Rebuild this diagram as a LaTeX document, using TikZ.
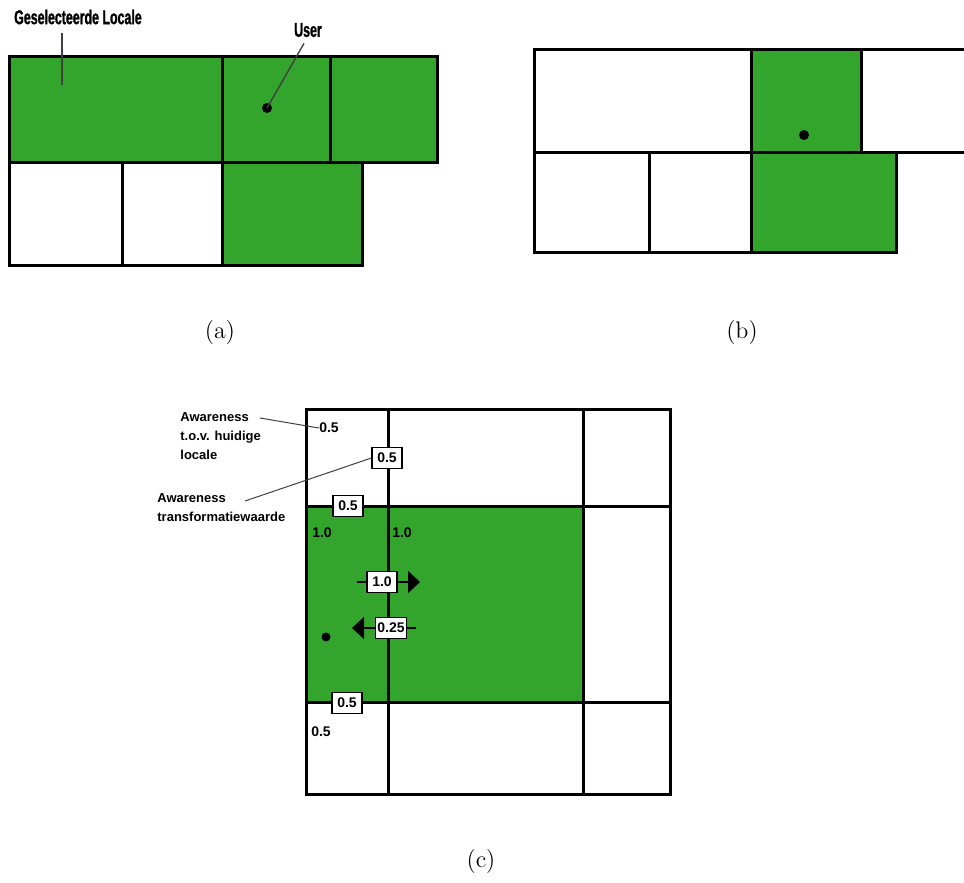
\documentclass[tikz,border=0pt]{standalone}
\usepackage{fontspec}
\usetikzlibrary{arrows.meta}
\newfontfamily\tagfont[FakeStretch=0.62,FakeBold=1.2]{Liberation Sans}
\newfontfamily\numfont{Liberation Sans}
\definecolor{locgreen}{RGB}{51,165,45}
\tikzset{
  cellline/.style={line width=1.5pt,draw=black},
  leader/.style={line width=0.5pt,draw=black!75},
  bigtag/.style={inner sep=0pt,font=\tagfont\bfseries\fontsize{10}{12}\selectfont},
  awtag/.style={inner sep=0pt,align=left,anchor=west,font=\numfont\bfseries\fontsize{6.5}{9.5}\selectfont},
  numtag/.style={inner sep=0pt,font=\numfont\bfseries\fontsize{7}{8}\selectfont},
  numbox/.style={numtag,draw,fill=white,line width=0.6pt,minimum width=15pt,minimum height=10.5pt,inner sep=1pt},
  flowarrow/.style={line width=0.8pt,-{Triangle[length=6pt,width=11pt]}},
  caption/.style={inner sep=0pt,font=\fontsize{12}{14}\selectfont}
}
\begin{document}
\begin{tikzpicture}[line join=miter,x=0.5pt,y=-0.5pt]
      \useasboundingbox (0,0) rectangle (964,883);

      % (a)
      \foreach \xa/\ya/\xb/\yb/\col in {9/57/222/163/locgreen,222/57/330/163/locgreen,
          330/57/437/163/locgreen,9/163/122/265/white,122/163/222/265/white,222/163/362/265/locgreen}{
        \filldraw[cellline,fill=\col] (\xa,\ya) rectangle (\xb,\yb);
      }
      \coordinate (userA) at (267,108);
      \fill (userA) circle (5);
      \node[bigtag] (locTag) at (78,17) {Geselecteerde Locale};
      \coordinate (locEnd) at (62,85);
      \draw[leader,line width=0.7pt] (locTag.south -| locEnd) ++(0,8) -- (locEnd);
      \node[bigtag] (userTag) at (308,30) {User};
      \draw[leader,line width=0.7pt] ([xshift=-2pt,yshift=-3pt]userTag.south) -- (userA);
      \node[caption] (capA) at (220,333) {(a)};

      % (b)
      \foreach \xa/\ya/\xb/\yb/\col in {534/50/751/153/white,751/50/861/153/locgreen,
          534/153/649/252/white,649/153/751/252/white,751/153/896/252/locgreen}{
        \filldraw[cellline,fill=\col] (\xa,\ya) rectangle (\xb,\yb);
      }
      \draw[cellline] (861,50) -- (966,50);
      \draw[cellline] (861,153) -- (966,153);
      \coordinate (userB) at (804,135);
      \fill (userB) circle (5);
      \node[caption] (capB) at (742,333) {(b)};

      % (c)
      \fill[locgreen] (306,506) rectangle (583,702);
      \draw[cellline] (306,409) rectangle (670,794);
      \foreach \x in {388,583}{
        \draw[cellline] (\x,409) -- (\x,794);
      }
      \foreach \y in {506,702}{
        \draw[cellline] (306,\y) -- (670,\y);
      }
      \coordinate (userC) at (326,637);
      \fill (userC) circle (4.5);

      \node[awtag] (awLocal) at (180,436) {Awareness\\t.o.v. huidige\\locale};
      \node[numtag] (topVal) at (329,428) {0.5};
      \coordinate (awLocalTail) at (260,418);
      \draw[leader] (awLocalTail) -- (topVal.west);

      \node[awtag] (awTrans) at (157,508) {Awareness\\transformatiewaarde};
      \node[numbox] (transTop) at (387,458) {0.5};
      \coordinate (awTransTail) at (245,501);
      \draw[leader] (awTransTail) -- (transTop.west);

      \node[numbox] (transUp) at (348,506) {0.5};
      \node[numtag] (valL) at (322,533) {1.0};
      \node[numtag] (valR) at (402,533) {1.0};

      \coordinate (rStart) at (357,582);
      \coordinate (rTip) at (420,582);
      \draw[flowarrow] (rStart) -- (rTip);
      \node[numbox] (transRight) at (382,582) {1.0};

      \coordinate (lStart) at (416,628);
      \coordinate (lTip) at (352,628);
      \draw[flowarrow] (lStart) -- (lTip);
      \node[numbox] (transLeft) at (391,628) {0.25};

      \node[numbox] (transDown) at (347,703) {0.5};
      \node[numtag] (valBot) at (321,732) {0.5};
      \node[caption] (capC) at (481,862) {(c)};
\end{tikzpicture}
\end{document}
